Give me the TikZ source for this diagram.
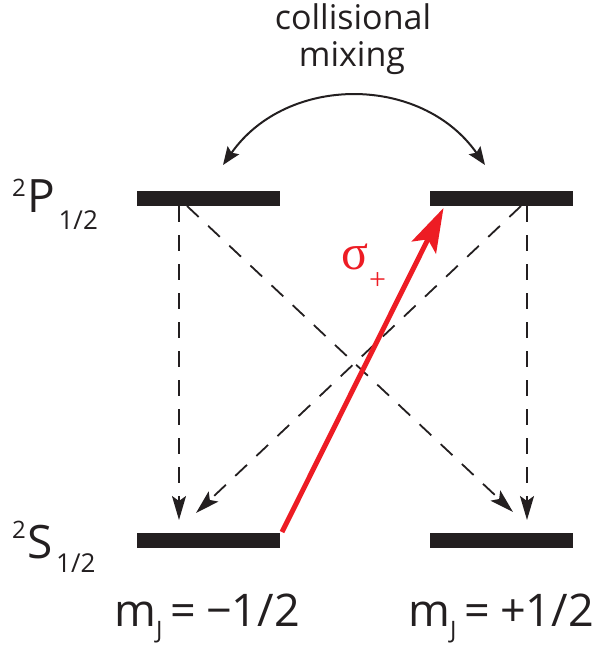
\documentclass[tikz,border=0pt]{standalone}
\usepackage{fontspec}
\setmainfont{Open Sans}
\newfontfamily\sigmafont{Liberation Serif}
\usetikzlibrary{arrows.meta,calc}
\definecolor{ink}{HTML}{231F20}
\definecolor{laser}{HTML}{ED1C24}
\begin{document}
\begin{tikzpicture}[x=1pt,y=-1pt,
  level/.style={fill=ink, draw=none, minimum width=143pt, minimum height=15pt, inner sep=0pt, outer sep=0pt},
  decay/.style={draw=ink, line width=1.8pt, dash pattern=on 16pt off 13pt, -{Stealth[length=24pt,width=14pt,inset=5pt]}},
  pump/.style={draw=laser, line width=5pt, -{Stealth[length=44pt,width=27pt,inset=9pt]}},
  mix/.style={draw=ink, line width=2pt, {Stealth[length=18pt,width=14pt,inset=3pt]}-{Stealth[length=18pt,width=14pt,inset=3pt]}},
  lbl/.style={text=ink, inner sep=0pt, anchor=base west}]
\useasboundingbox (0,0) rectangle (596,654);
% levels
\node[level] (PL) at (208.5,198.5) {};
\node[level] (PR) at (501,198.5) {};
\node[level] (SL) at (208.5,540.5) {};
\node[level] (SR) at (501,540.5) {};
% decay paths
\draw[decay] ($(PL.south)+(-29.5,0)$) -- ($(SL.north)+(-29.5,-13)$);
\draw[decay] ($(PR.south)+(26,0)$) -- ($(SR.north)+(26,-13)$);
\draw[decay] ($(PL.south)+(-21.5,0)$) -- ($(SR.north)+(12,-21)$);
\draw[decay] ($(PR.south)+(20,0)$) -- ($(SL.north)+(-12.5,-20)$);
% pump
\draw[pump] ($(SL.north east)+(2,-1)$) -- ($(PR.south west)+(14,2)$);
\node[text=laser, inner sep=0pt, anchor=base west] (sig) at (341,269)
  {\sigmafont\fontsize{50}{50}\selectfont σ\hspace{1pt}\raisebox{-20pt}{\fontsize{30}{30}\selectfont +}};
% collisional mixing
\coordinate (mixL) at ($(PL.north)+(14.5,-26)$);
\coordinate (mixR) at ($(PR.north)+(-16,-26)$);
\draw[mix] (mixL) .. controls ($(mixL)+(63.7,-90.7)$) and ($(mixR)+(-63.7,-90.7)$) .. (mixR);
\node[text=ink, inner sep=0pt, anchor=base, font=\fontsize{34}{34}\selectfont] (t1) at (353,29) {collisional};
\node[text=ink, inner sep=0pt, anchor=base, font=\fontsize{34}{34}\selectfont] (t2) at (352,66) {mixing};
% level labels
\node[lbl] (labP) at (12,212) {\fontsize{24}{24}\selectfont\raisebox{16pt}{2}\hspace{2pt}\fontsize{46}{46}\selectfont P\fontsize{26}{26}\selectfont\raisebox{-17pt}{\hspace{3pt}1/2}};
\node[lbl] (labS) at (12,558) {\fontsize{24}{24}\selectfont\raisebox{20pt}{2}\hspace{2pt}\fontsize{46}{46}\selectfont S\fontsize{26}{26}\selectfont\raisebox{-14pt}{\hspace{3pt}1/2}};
% mJ labels
\node[lbl] (mL) at (114,626) {\fontsize{45}{45}\selectfont m\raisebox{-12pt}{\fontsize{24}{24}\selectfont J}\hspace{8pt}=\hspace{10pt}−1/2};
\node[lbl] (mR) at (408,626) {\fontsize{45}{45}\selectfont m\raisebox{-12pt}{\fontsize{24}{24}\selectfont J}\hspace{8pt}=\hspace{10pt}+1/2};
\end{tikzpicture}
\end{document}
